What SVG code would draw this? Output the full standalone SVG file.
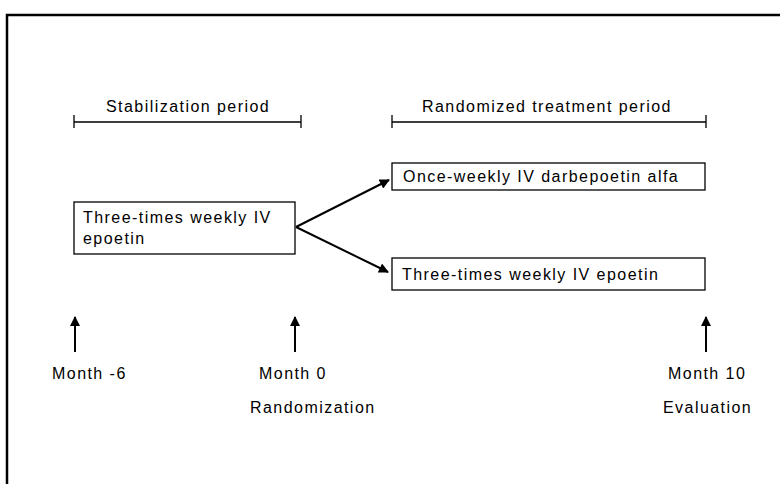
<svg xmlns="http://www.w3.org/2000/svg" width="780" height="484" viewBox="0 0 780 484">
<defs>
<style>
text{font-family:"Liberation Sans",Arial,sans-serif;font-size:16px;letter-spacing:1.45px;fill:#000}
.box{fill:#fff;stroke:#000;stroke-width:1.3}
.ln{stroke:#000;stroke-width:1.3;fill:none}
.arr{stroke:#000;stroke-width:2;fill:none;marker-end:url(#ah)}
</style>
<marker id="ah" viewBox="0 0 10 10" refX="9" refY="5" markerWidth="5.5" markerHeight="5" orient="auto" markerUnits="strokeWidth">
<path d="M0,0 L10,5 L0,10 z" fill="#000"/>
</marker>
</defs>
<rect width="780" height="484" fill="#fff"/>
<rect x="7" y="15" width="800" height="500" fill="none" stroke="#000" stroke-width="2.5"/>
<g id="stab-period">
<text x="106" y="112">Stabilization period</text>
<path class="ln" d="M74,122 H301 M74,115 V128 M301,115 V128"/>
</g>
<g id="rand-period">
<text x="422" y="112">Randomized treatment period</text>
<path class="ln" d="M392,122 H706 M392,115 V128 M706,115 V128"/>
</g>
<g id="node-epoetin-start">
<rect class="box" x="74" y="202" width="221" height="52"/>
<text x="83" y="223">Three-times weekly IV</text>
<text x="83" y="244">epoetin</text>
</g>
<g id="node-darbepoetin">
<rect class="box" x="392" y="163" width="313" height="27"/>
<text x="403" y="182">Once-weekly IV darbepoetin alfa</text>
</g>
<g id="node-epoetin-arm">
<rect class="box" x="392" y="258" width="313" height="32"/>
<text x="402" y="280">Three-times weekly IV epoetin</text>
</g>
<g id="connectors">
<line class="arr" x1="296" y1="227" x2="389" y2="180"/>
<line class="arr" x1="296" y1="227" x2="388" y2="272"/>
<line class="arr" x1="75" y1="352" x2="75" y2="317"/>
<line class="arr" x1="295" y1="352" x2="295" y2="317"/>
<line class="arr" x1="706" y1="352" x2="706" y2="317"/>
</g>
<g id="label-m6">
<text x="52" y="379">Month -6</text>
</g>
<g id="label-m0">
<text x="259" y="379">Month 0</text>
<text x="250" y="413">Randomization</text>
</g>
<g id="label-m10">
<text x="668" y="379">Month 10</text>
<text x="663" y="413">Evaluation</text>
</g>
</svg>
